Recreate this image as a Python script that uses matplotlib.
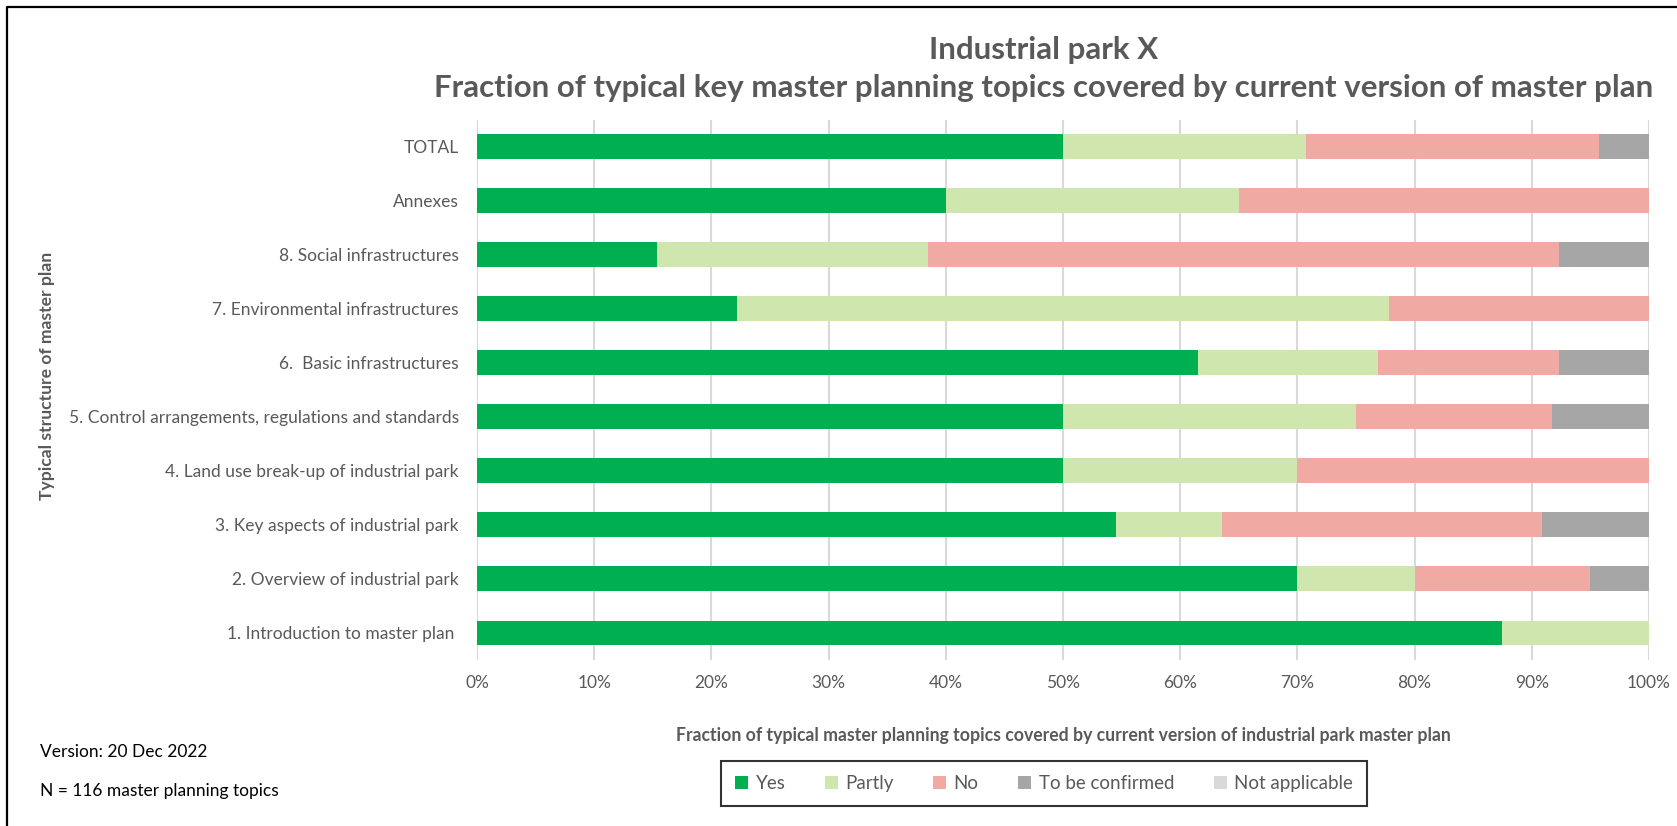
import numpy as np
import matplotlib
matplotlib.use("Agg")
import matplotlib.pyplot as plt
from matplotlib.lines import Line2D

plt.rcParams['font.family'] = ['Lato', 'DejaVu Sans']

# ------------------------------------------------------------
# data (percent of topics per section), bottom row first
# ------------------------------------------------------------
sections = ["1. Introduction to master plan ",
            "2. Overview of industrial park",
            "3. Key aspects of industrial park",
            "4. Land use break-up of industrial park",
            "5. Control arrangements, regulations and standards",
            "6.  Basic infrastructures",
            "7. Environmental infrastructures",
            "8. Social infrastructures",
            "Annexes",
            "TOTAL"]

yes_pct = [87.5, 70.0, 54.5, 50.0, 50.0, 61.5, 22.2, 15.4, 40.0, 50.0]
partly_pct = [12.5, 10.0, 9.1, 20.0, 25.0, 15.4, 55.6, 23.1, 25.0, 20.7]
no_pct = [0.0, 15.0, 27.3, 30.0, 16.7, 15.4, 22.2, 53.8, 35.0, 25.0]
tbc_pct = [0.0, 5.0, 9.1, 0.0, 8.3, 7.7, 0.0, 7.7, 0.0, 4.3]
na_pct = [0.0, 0.0, 0.0, 0.0, 0.0, 0.0, 0.0, 0.0, 0.0, 0.0]

series = ["Yes", "Partly", "No", "To be confirmed", "Not applicable"]
colors = ["#00B050", "#CFE7AF", "#F1A9A3", "#A6A6A6", "#D9D9D9"]
grey_txt = "#595959"

# ------------------------------------------------------------
# figure
# ------------------------------------------------------------
fig = plt.figure(figsize=(16.77, 8.26), dpi=100)
ax = fig.add_axes([0.2844, 0.2010, 0.6989, 0.6543])

y = np.arange(len(sections))
left = np.zeros(len(sections))
for name, vals, col in zip(series, [yes_pct, partly_pct, no_pct, tbc_pct, na_pct], colors):
    vals = np.array(vals) / 100.0
    ax.barh(y, vals, left=left, height=0.46, color=col, label=name, zorder=3)
    left = left + vals

ax.set_xlim(0, 1)
ax.set_ylim(-0.5, len(sections) - 0.5)
ax.set_xticks(np.arange(0, 1.01, 0.1))
ax.set_xticklabels([f"{int(round(t * 100))}%" for t in np.arange(0, 1.01, 0.1)])
ax.set_yticks(y)
ax.set_yticklabels(sections)
ax.tick_params(axis='both', length=0, labelsize=12.5, colors=grey_txt)
ax.tick_params(axis='y', pad=13)
ax.tick_params(axis='x', pad=11)
ax.grid(axis='x', color="#D9D9D9", linewidth=1.5, zorder=0)
for s in ax.spines.values():
    s.set_visible(False)

# titles and labels
fig.text(0.6225, 0.940, "Industrial park X", ha='center', va='center',
         fontsize=22.5, fontweight='bold', color=grey_txt)
fig.text(0.6225, 0.893,
         "Fraction of typical key master planning topics covered by current version of master plan",
         ha='center', va='center', fontsize=22.5, fontweight='bold', color=grey_txt)
fig.text(0.634, 0.109,
         "Fraction of typical master planning topics covered by current version of industrial park master plan",
         ha='center', va='center', fontsize=12.7, fontweight='bold', color=grey_txt)
fig.text(0.028, 0.545, "Typical structure of master plan", rotation=90,
         ha='center', va='center', fontsize=12.6, fontweight='bold', color=grey_txt)

fig.text(0.0239, 0.090, "Version: 20 Dec 2022", ha='left', va='center', fontsize=12.5, color='black')
fig.text(0.0239, 0.042, "N = 116 master planning topics", ha='left', va='center', fontsize=12.5, color='black')

leg = fig.legend(loc='center', bbox_to_anchor=(0.6225, 0.0515), ncol=5, frameon=True,
                 fontsize=13.5, handlelength=0.7, handleheight=0.7, handletextpad=0.4,
                 columnspacing=2.1, borderpad=0.75, borderaxespad=0, fancybox=False)
leg.get_frame().set_edgecolor('black')
leg.get_frame().set_linewidth(1.5)
for t in leg.get_texts():
    t.set_color(grey_txt)

# outer frame (left and top edges of the screenshot)
fig.add_artist(Line2D([7 / 1677, 7 / 1677, 1.0], [0.0, 1 - 7 / 826, 1 - 7 / 826],
                      color='black', linewidth=1.6, transform=fig.transFigure))

fig.savefig("out.png", dpi=100)
